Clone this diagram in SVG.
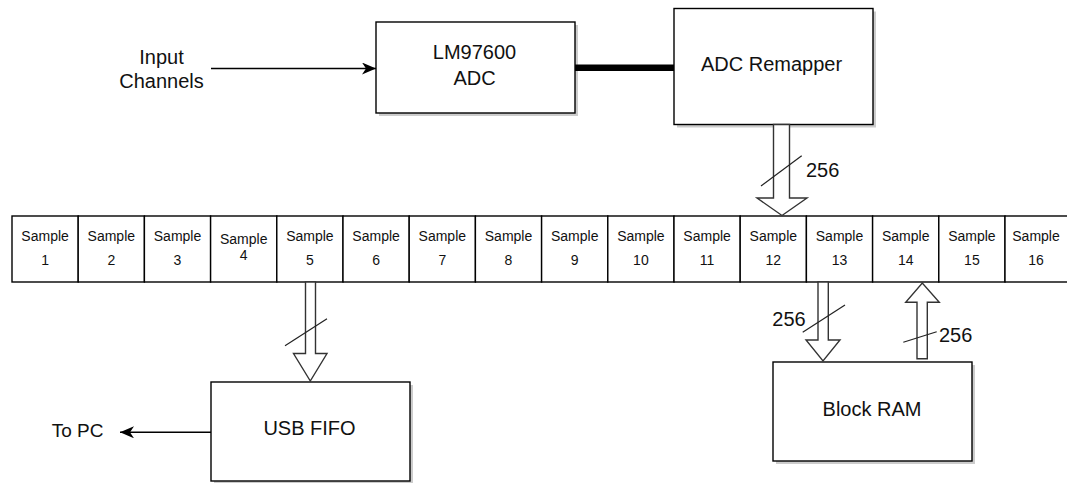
<svg xmlns="http://www.w3.org/2000/svg" width="1067" height="483" viewBox="0 0 1067 483">
<style>
  .box{fill:#fff;stroke:#000;stroke-width:1.4}
  .shadow{fill:#000;opacity:0.2}
  .cell{fill:#fff;stroke:#000;stroke-width:1.4}
  .lbl{font-family:"Liberation Sans",Arial,sans-serif;font-size:20px;fill:#111;text-anchor:middle}
  .small{font-family:"Liberation Sans",Arial,sans-serif;font-size:14px;fill:#111;text-anchor:middle}
  .line{fill:none;stroke:#000;stroke-width:1.4}
  .thick{fill:none;stroke:#000;stroke-width:6.5}
  .hollow{fill:#fff;stroke:#333;stroke-width:1.4;stroke-linejoin:miter}
  .slash{fill:none;stroke:#222;stroke-width:1.2}
</style>
<defs>
  <marker id="arrow" viewBox="0 0 14 12" refX="14" refY="6" markerWidth="14" markerHeight="12" markerUnits="userSpaceOnUse" orient="auto">
    <path d="M0,0 L14,6 L0,12 L4,6 Z" fill="#000"/>
  </marker>
</defs>
<rect width="1067" height="483" fill="#fff"/>

<g id="input-label">
  <text class="lbl" x="161.5" y="64">Input</text>
  <text class="lbl" x="161.5" y="88">Channels</text>
</g>

<g id="adc">
  <rect class="shadow" x="379" y="25" width="199" height="91"/>
  <rect class="box" x="376" y="22" width="199" height="91"/>
  <text class="lbl" x="474.5" y="59">LM97600</text>
  <text class="lbl" x="474.5" y="85">ADC</text>
</g>

<g id="remapper">
  <rect class="shadow" x="677" y="11.5" width="199" height="116"/>
  <rect class="box" x="674" y="8.5" width="199" height="116"/>
  <text class="lbl" x="771.5" y="71">ADC Remapper</text>
</g>

<g id="samples">
  <g id="sample-1"><rect class="cell" x="12" y="216" width="66.2" height="66"/><text class="small" x="45.1" y="241">Sample</text><text class="small" x="45.1" y="265">1</text></g>
  <g id="sample-2"><rect class="cell" x="78.2" y="216" width="66.2" height="66"/><text class="small" x="111.3" y="241">Sample</text><text class="small" x="111.3" y="265">2</text></g>
  <g id="sample-3"><rect class="cell" x="144.4" y="216" width="66.2" height="66"/><text class="small" x="177.5" y="241">Sample</text><text class="small" x="177.5" y="265">3</text></g>
  <g id="sample-4"><rect class="cell" x="210.6" y="216" width="66.2" height="66"/><text class="small" x="243.7" y="244">Sample</text><text class="small" x="243.7" y="260">4</text></g>
  <g id="sample-5"><rect class="cell" x="276.8" y="216" width="66.2" height="66"/><text class="small" x="309.9" y="241">Sample</text><text class="small" x="309.9" y="265">5</text></g>
  <g id="sample-6"><rect class="cell" x="343" y="216" width="66.2" height="66"/><text class="small" x="376.1" y="241">Sample</text><text class="small" x="376.1" y="265">6</text></g>
  <g id="sample-7"><rect class="cell" x="409.2" y="216" width="66.2" height="66"/><text class="small" x="442.3" y="241">Sample</text><text class="small" x="442.3" y="265">7</text></g>
  <g id="sample-8"><rect class="cell" x="475.4" y="216" width="66.2" height="66"/><text class="small" x="508.5" y="241">Sample</text><text class="small" x="508.5" y="265">8</text></g>
  <g id="sample-9"><rect class="cell" x="541.6" y="216" width="66.2" height="66"/><text class="small" x="574.7" y="241">Sample</text><text class="small" x="574.7" y="265">9</text></g>
  <g id="sample-10"><rect class="cell" x="607.8" y="216" width="66.2" height="66"/><text class="small" x="640.9" y="241">Sample</text><text class="small" x="640.9" y="265">10</text></g>
  <g id="sample-11"><rect class="cell" x="674" y="216" width="66.2" height="66"/><text class="small" x="707.1" y="241">Sample</text><text class="small" x="707.1" y="265">11</text></g>
  <g id="sample-12"><rect class="cell" x="740.2" y="216" width="66.2" height="66"/><text class="small" x="773.3" y="241">Sample</text><text class="small" x="773.3" y="265">12</text></g>
  <g id="sample-13"><rect class="cell" x="806.4" y="216" width="66.2" height="66"/><text class="small" x="839.5" y="241">Sample</text><text class="small" x="839.5" y="265">13</text></g>
  <g id="sample-14"><rect class="cell" x="872.6" y="216" width="66.2" height="66"/><text class="small" x="905.7" y="241">Sample</text><text class="small" x="905.7" y="265">14</text></g>
  <g id="sample-15"><rect class="cell" x="938.8" y="216" width="66.2" height="66"/><text class="small" x="971.9" y="241">Sample</text><text class="small" x="971.9" y="265">15</text></g>
  <g id="sample-16"><rect class="cell" x="1005" y="216" width="66.2" height="66"/><text class="small" x="1036" y="241">Sample</text><text class="small" x="1036" y="265">16</text></g>
</g>

<g id="usb-fifo">
  <rect class="shadow" x="214" y="385" width="199" height="99"/>
  <rect class="box" x="211" y="382" width="199" height="99"/>
  <text class="lbl" x="309.5" y="435">USB FIFO</text>
</g>

<g id="block-ram">
  <rect class="shadow" x="776" y="365" width="199" height="99"/>
  <rect class="box" x="773" y="362" width="199" height="99"/>
  <text class="lbl" x="872" y="415.5">Block RAM</text>
</g>

<g id="to-pc-label">
  <text class="lbl" x="77.5" y="436.5" style="font-size:19px">To PC</text>
</g>

<g id="connectors">
  <line class="line" x1="211" y1="68.5" x2="376" y2="68.5" marker-end="url(#arrow)"/>
  <line class="thick" x1="575" y1="67.8" x2="674" y2="67.8"/>
  <line class="line" x1="211" y1="432.3" x2="120" y2="432.3" marker-end="url(#arrow)"/>

  <path class="hollow" d="M773.5,124.5 L789.5,124.5 L789.5,198 L807,198 L782,215.5 L757,198 L773.5,198 Z"/>
  <line class="slash" x1="761" y1="186" x2="801.7" y2="155.7"/>
  <text class="lbl" x="806" y="177" style="text-anchor:start">256</text>

  <path class="hollow" d="M305.5,282 L315.5,282 L315.5,353.5 L327,353.5 L310.3,381 L293.5,353.5 L305.5,353.5 Z"/>
  <line class="slash" x1="285" y1="345.7" x2="327" y2="318.7"/>

  <path class="hollow" d="M818,282 L828.3,282 L828.3,340 L840,340 L823,361 L806,340 L818,340 Z"/>
  <line class="slash" x1="802.7" y1="332.3" x2="845" y2="305"/>
  <text class="lbl" x="772.3" y="325.7" style="text-anchor:start">256</text>

  <path class="hollow" d="M917,358.7 L927.3,358.7 L927.3,302.3 L939.3,302.3 L922.3,283 L905.7,302.3 L917,302.3 Z"/>
  <line class="slash" x1="903.3" y1="342.3" x2="936.7" y2="331.7"/>
  <text class="lbl" x="939" y="342.3" style="text-anchor:start">256</text>
</g>
</svg>
